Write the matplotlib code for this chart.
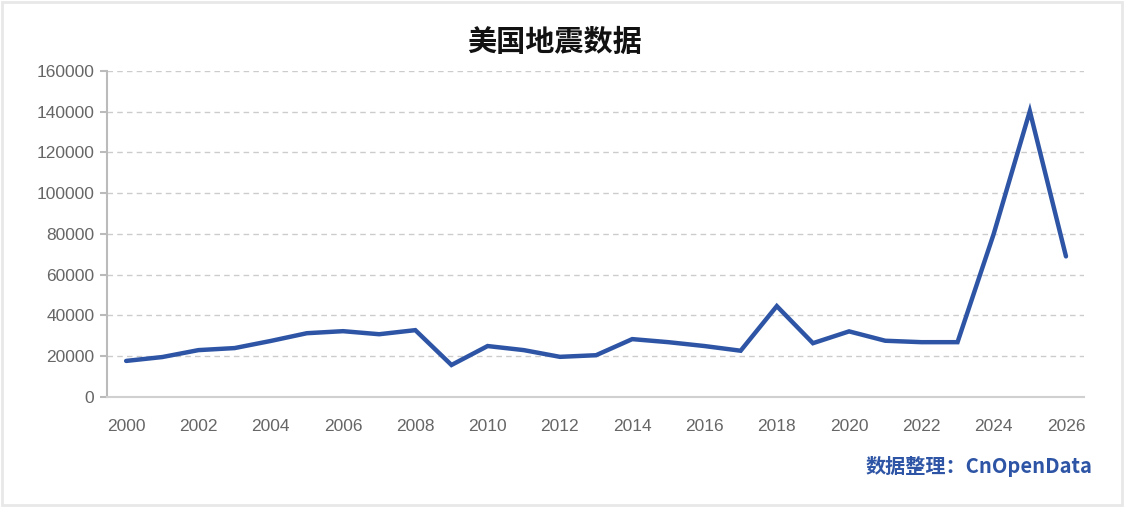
import matplotlib.pyplot as plt
from matplotlib.patches import Rectangle

plt.rcParams['font.family'] = ['Liberation Sans', 'Noto Sans CJK SC', 'DejaVu Sans']

years = list(range(2000, 2027))
counts = [17700, 19600, 23000, 24000, 27500, 31300, 32300, 30800, 32800, 15700,
          25000, 23000, 19700, 20500, 28400, 26900, 25000, 22700, 44600, 26400,
          32200, 27600, 26900, 26900, 80000, 140300, 69000]
x_ticks = list(range(2000, 2027, 2))
y_ticks = list(range(0, 160001, 20000))

title = "美国地震数据"
source = "数据整理：CnOpenData"
line_color = "#2E55A5"
text_gray = "#666666"

fig = plt.figure(figsize=(11.25, 5.07), dpi=100)
fig.patches.append(Rectangle((0.002, 0.004), 0.995, 0.992, transform=fig.transFigure,
                             fill=False, edgecolor="#e8e8e8", linewidth=2))
ax = fig.add_axes([0.0951, 0.217, 0.8685, 0.643])

ax.plot(years, counts, color=line_color, linewidth=3.2,
        solid_joinstyle='miter', solid_capstyle='round')

ax.set_xlim(1999.47, 2026.5)
ax.set_ylim(0, 160000)
ax.set_xticks(x_ticks)
ax.set_yticks(y_ticks)
ax.tick_params(axis='x', length=0, pad=16, labelsize=12.5, labelcolor=text_gray)
ax.tick_params(axis='y', length=5, width=1.5, color="#bbbbbb", pad=4,
               labelsize=12.5, labelcolor=text_gray)

ax.grid(axis='y', linestyle=(0, (4, 3)), color="#cccccc", linewidth=1)
ax.set_axisbelow(True)
for side in ['top', 'right']:
    ax.spines[side].set_visible(False)
ax.spines['left'].set_color("#bbbbbb")
ax.spines['left'].set_linewidth(1.5)
ax.spines['bottom'].set_color("#d0d0d0")
ax.spines['bottom'].set_linewidth(1.5)

fig.text(0.493, 0.918, title, ha='center', va='center', fontsize=21,
         fontweight='bold', family=['Noto Sans CJK SC'], color="#111111")
fig.text(0.971, 0.079, source, ha='right', va='center', fontsize=14.5,
         fontweight='bold', family=['Noto Sans CJK SC'], color=line_color)

fig.savefig("out.png", dpi=100)
